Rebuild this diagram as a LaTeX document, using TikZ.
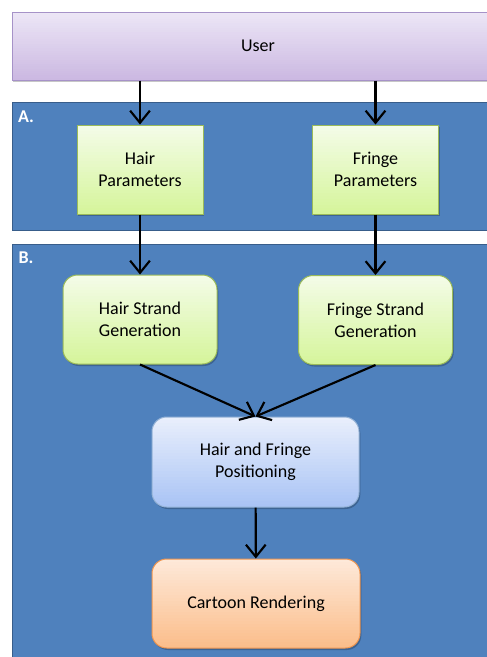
\documentclass[tikz,border=0pt]{standalone}
\usepackage{fontspec}
\setmainfont{Carlito}
\usetikzlibrary{arrows.meta,calc}

\definecolor{userTop}{RGB}{236,230,246}
\definecolor{userBot}{RGB}{204,185,226}
\definecolor{greenTop}{RGB}{244,252,232}
\definecolor{greenBot}{RGB}{214,245,156}
\definecolor{blueTop}{RGB}{233,239,252}
\definecolor{blueBot}{RGB}{170,196,245}
\definecolor{orangeTop}{RGB}{254,233,217}
\definecolor{orangeBot}{RGB}{251,190,140}

% top-to-bottom colour ramp, painted in strips
\tikzset{vgrad/.style 2 args={path picture={
    \foreach \i in {0,...,29}{
        \pgfmathtruncatemacro\mix{100-100*\i/29}
        \fill[#1!\mix!#2, sharp corners] ($(path picture bounding box.north west)!{\i/30}!(path picture bounding box.south west)$)
            rectangle ($(path picture bounding box.north east)!{(\i+1.3)/30}!(path picture bounding box.south east)$);
    }}}}

\begin{document}
\begin{tikzpicture}[x=0.75pt, y=-0.75pt, font=\fontsize{13.5}{16.3}\selectfont]
    \tikzstyle{panel} = [fill={rgb,255:red,79;green,129;blue,189}, draw={rgb,255:red,56;green,93;blue,138}, line width=0.75pt]
    \tikzstyle{box} = [rectangle, draw, text centered, align=center, line width=0.75pt, inner sep=2pt,
                       preaction={fill=black, opacity=0.22, transform canvas={xshift=1pt, yshift=-1.5pt}}]
    \tikzstyle{green} = [box, draw={rgb,255:red,155;green,187;blue,89}, vgrad={greenTop}{greenBot}]
    \tikzstyle{line} = [draw, line width=1.6pt, -{Straight Barb[length=3.2mm, width=5.2mm, line width=1.6pt]}]

    % background and the two panels
    \draw[white, fill=white, line width=2pt] (0,0) rectangle (486,657);
    \draw[panel] (12,102) rectangle (500,230);
    \draw[panel] (12,244) rectangle (500,680);
    \node[text=white, font=\fontsize{13.5}{16}\selectfont\bfseries] (labA) at (26,117) {A.};
    \node[text=white, font=\fontsize{13.5}{16}\selectfont\bfseries] (labB) at (26,258) {B.};

    \node [box, minimum width=369pt, minimum height=51pt, draw={rgb,255:red,166;green,146;blue,200},
           vgrad={userTop}{userBot}] (user) at (258,46) {User};

    \node [green, minimum width=94.5pt, minimum height=66.75pt] (hairpar) at (140,169.5) {Hair\\Parameters};
    \node [green, minimum width=94.5pt, minimum height=66.75pt] (fringepar) at (375.5,169.5) {Fringe\\Parameters};

    \node [green, rounded corners=11pt, minimum width=115.5pt, minimum height=66.75pt] (hairgen) at (140,319.5) {Hair Strand\\Generation};
    \node [green, rounded corners=11pt, minimum width=115.5pt, minimum height=66.75pt] (fringegen) at (375.5,320) {Fringe Strand\\Generation};

    \node [box, rounded corners=11pt, minimum width=155.25pt, minimum height=67.5pt, draw={rgb,255:red,149;green,179;blue,215},
           vgrad={blueTop}{blueBot}] (placing) at (255.5,462) {Hair and Fringe\\Positioning};

    \node [box, rounded corners=11pt, minimum width=156pt, minimum height=66.75pt, draw={rgb,255:red,240;green,150;blue,80},
           vgrad={orangeTop}{orangeBot}] (render) at (256,603.5) {Cartoon Rendering};

    \path [line] (user.south -| hairpar) -- (hairpar);
    \path [line] (user.south -| fringepar) -- (fringepar);
    \path [line] (hairpar) -- (hairgen);
    \path [line] (fringepar) -- (fringegen);
    \path [line] (hairgen.south) -- (placing.north);
    \path [line] (fringegen.south) -- (placing.north);
    \path [line] (placing) -- (render);

    % page size
    \pgfresetboundingbox
    \useasboundingbox (0,0) rectangle (486,657);
\end{tikzpicture}
\end{document}
